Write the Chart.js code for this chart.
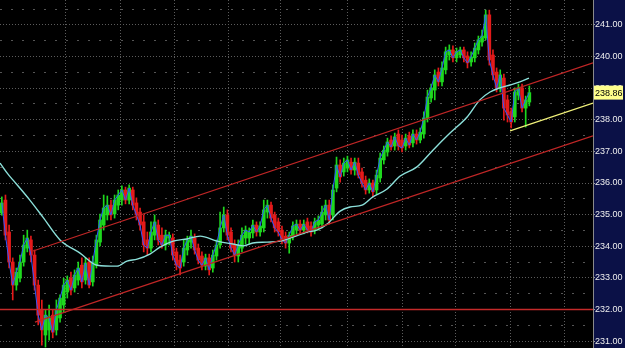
<!DOCTYPE html>
<html>
<head>
<meta charset="utf-8">
<script src="https://cdn.jsdelivr.net/npm/chart.js@4.4.1/dist/chart.umd.min.js"></script>
<style>
  html, body { margin: 0; padding: 0; background: #000; }
  #wrap { width: 625px; height: 348px; }
</style>
</head>
<body>
<div id="wrap"><canvas id="chart" width="625" height="348"></canvas></div>
<script>
// candles, oldest first
const opens = [
  235.05, 235.46, 234.45, 233.50, 232.77, 232.99, 233.50, 233.94, 234.20, 233.72,
  232.77, 231.98, 231.19, 231.35, 231.82, 231.35, 231.73, 232.14, 232.55, 232.99,
  232.68, 232.93, 233.40, 232.93, 233.50, 232.87, 233.40, 234.13, 234.67, 234.99,
  235.30, 235.02, 235.30, 235.46, 235.78, 235.46, 235.78, 235.37, 235.08, 234.77,
  234.20, 233.94, 234.35, 234.67, 234.35, 234.04, 234.26, 234.26, 233.82, 233.56,
  233.50, 233.88, 234.13, 234.26, 233.94, 233.69, 233.37, 233.63, 233.31, 233.69,
  234.04, 234.58, 234.99, 234.45, 234.04, 233.69, 233.94, 234.26, 234.26, 234.42,
  234.67, 234.45, 234.58, 235.08, 235.30, 234.99, 234.77, 234.51, 234.32, 234.10,
  234.32, 234.51, 234.70, 234.51, 234.77, 234.64, 234.51, 234.67, 234.70, 234.99,
  235.30, 234.99, 235.84, 236.57, 236.35, 236.47, 236.66, 236.41, 236.63, 236.35,
  236.09, 235.78, 236.00, 235.78, 236.16, 236.73, 236.98, 237.36, 237.17, 237.55,
  237.36, 237.17, 237.49, 237.27, 237.55, 237.36, 237.55, 238.06, 238.69, 238.94,
  239.51, 239.20, 239.58, 240.05, 240.21, 239.96, 240.05, 240.21, 240.02, 239.83,
  239.96, 240.21, 240.46, 240.59, 241.32, 240.05, 239.51, 239.01, 239.32, 238.63,
  238.25, 238.09, 238.78, 239.01, 238.37, 238.56
];
const highs = [
  235.56, 235.62, 234.67, 233.63, 233.31, 233.72, 234.35, 234.51, 234.32, 233.88,
  232.93, 232.30, 231.98, 232.14, 231.98, 232.30, 232.46, 232.99, 233.06, 233.18,
  233.25, 233.50, 233.63, 233.63, 233.63, 233.69, 234.35, 235.02, 235.62, 235.59,
  235.46, 235.62, 235.78, 235.91, 235.87, 235.94, 235.87, 235.53, 235.21, 234.99,
  234.45, 234.77, 234.99, 234.83, 234.58, 234.51, 234.45, 234.39, 233.94, 233.72,
  234.20, 234.32, 234.51, 234.39, 234.07, 233.82, 233.75, 233.75, 233.88, 234.20,
  235.08, 235.24, 235.15, 234.58, 234.20, 234.20, 234.58, 234.64, 234.58, 234.83,
  234.77, 234.77, 235.46, 235.46, 235.40, 235.08, 234.89, 234.64, 234.45, 234.45,
  234.77, 234.83, 234.83, 234.83, 234.89, 234.77, 234.89, 234.96, 235.27, 235.46,
  235.46, 235.94, 236.82, 236.73, 236.79, 236.85, 236.79, 236.79, 236.79, 236.47,
  236.22, 236.13, 236.09, 236.41, 236.95, 237.17, 237.42, 237.49, 237.58, 237.68,
  237.52, 237.55, 237.61, 237.68, 237.68, 237.74, 238.25, 238.94, 239.13, 239.58,
  239.64, 239.83, 240.30, 240.37, 240.34, 240.27, 240.30, 240.30, 240.15, 240.15,
  240.43, 240.65, 240.84, 241.47, 241.47, 240.21, 239.64, 239.58, 239.45, 238.78,
  238.37, 239.01, 239.13, 239.13, 238.75, 239.07
];
const lows = [
  234.98, 234.20, 233.31, 232.30, 232.61, 232.87, 233.37, 233.82, 233.50, 232.61,
  231.51, 230.87, 230.81, 231.03, 231.10, 231.19, 231.60, 231.92, 232.36, 232.46,
  232.55, 232.77, 232.68, 232.80, 232.68, 232.74, 233.31, 234.01, 234.51, 234.83,
  234.83, 234.89, 235.15, 235.30, 235.34, 235.34, 235.15, 234.83, 234.51, 233.82,
  233.72, 233.82, 234.20, 234.04, 233.94, 233.88, 234.04, 233.56, 233.25, 233.09,
  233.37, 233.72, 233.94, 233.75, 233.44, 233.25, 233.25, 233.09, 233.18, 233.56,
  233.94, 234.45, 234.20, 233.82, 233.50, 233.50, 233.82, 234.07, 234.07, 234.26,
  234.32, 234.32, 234.45, 234.89, 234.77, 234.45, 234.32, 234.07, 233.94, 233.78,
  234.20, 234.39, 234.39, 234.39, 234.42, 234.32, 234.39, 234.51, 234.58, 234.83,
  234.70, 234.83, 235.72, 236.03, 236.22, 236.35, 236.28, 236.25, 236.16, 235.87,
  235.65, 235.68, 235.56, 235.65, 236.03, 236.60, 236.85, 237.04, 237.04, 237.04,
  236.98, 237.04, 237.11, 237.14, 237.23, 237.27, 237.42, 237.93, 238.56, 238.63,
  239.07, 239.07, 239.45, 239.89, 239.83, 239.83, 239.96, 239.83, 239.64, 239.70,
  239.83, 240.08, 240.33, 240.53, 239.73, 239.26, 238.88, 238.88, 237.99, 237.93,
  237.74, 237.93, 238.63, 238.25, 237.77, 238.44
];
const closes = [
  235.37, 234.35, 233.50, 232.77, 233.18, 233.50, 234.04, 234.26, 233.72, 232.77,
  231.82, 231.35, 231.82, 231.73, 231.28, 231.98, 232.36, 232.77, 232.93, 232.61,
  233.09, 233.31, 232.87, 233.47, 232.77, 233.50, 234.20, 234.83, 235.21, 235.30,
  234.99, 235.46, 235.62, 235.78, 235.46, 235.84, 235.30, 234.99, 234.67, 234.04,
  233.94, 234.45, 234.77, 234.20, 234.04, 234.35, 234.35, 233.72, 233.40, 233.31,
  233.94, 234.20, 234.32, 233.88, 233.56, 233.40, 233.63, 233.25, 233.72, 234.04,
  234.58, 234.99, 234.35, 233.94, 233.72, 234.04, 234.35, 234.51, 234.45, 234.67,
  234.45, 234.64, 235.15, 235.30, 234.89, 234.58, 234.45, 234.20, 234.10, 234.35,
  234.64, 234.70, 234.51, 234.70, 234.51, 234.45, 234.77, 234.83, 235.08, 235.30,
  234.83, 235.78, 236.57, 236.19, 236.63, 236.73, 236.41, 236.66, 236.25, 236.00,
  235.78, 236.00, 235.72, 236.25, 236.79, 237.04, 237.30, 237.14, 237.46, 237.17,
  237.11, 237.42, 237.20, 237.55, 237.36, 237.61, 238.06, 238.72, 239.01, 239.42,
  239.20, 239.64, 240.15, 240.21, 239.96, 240.15, 240.21, 239.96, 239.80, 239.99,
  240.27, 240.53, 240.65, 241.32, 239.89, 239.42, 239.01, 239.42, 238.37, 238.15,
  237.93, 238.88, 239.01, 238.37, 238.63, 238.86
];

const slowMaAt = [-0.5, 1.7, 3.1, 7.7, 11.3, 16.0, 21.5, 26.2, 31.7, 34.4, 37.2, 40.7, 43.5, 47.1,
  50.9, 54.5, 59.2, 63.5, 66.3, 69.0, 72.9, 76.5, 80.0, 83.9, 86.6, 89.4, 93.0, 95.7, 99.0,
  102.0, 105.9, 109.5, 114.1, 118.5, 123.2, 127.9, 131.4, 134.2, 136.9, 139.7, 142.4, 144.9];
const slowMa = [236.63, 236.28, 236.09, 235.46, 234.92, 234.20, 233.78, 233.40, 233.37, 233.53, 233.59, 233.75, 233.97, 234.16,
  234.23, 234.32, 234.16, 234.07, 234.01, 234.10, 234.13, 234.16, 234.29, 234.45, 234.51, 234.70, 235.11, 235.24, 235.30,
  235.56, 235.81, 236.22, 236.51, 237.04, 237.58, 238.09, 238.63, 238.88, 239.01, 239.10, 239.20, 239.32];

// drawn trend lines (bar position, price)
const upperChannelAt = [8.6, 162.5];
const upperChannel = [233.85, 239.80];
const lowerChannelAt = [9.1, 162.5];
const lowerChannel = [231.60, 237.49];
const supportAt = [139.7, 162.5];
const support = [237.65, 238.53];
const flatLevel = 232.00;

const priceTicks = [231, 232, 233, 234, 235, 236, 237, 238, 239, 240, 241];
const halfTicks = [231.5, 232.5, 233.5, 234.5, 235.5, 236.5, 237.5, 238.5, 239.5, 240.5, 241.5];
const sessionBreaks = [17.4, 32.5, 47.6, 62.4, 76.5, 94.9, 110.0, 124.6, 139.7, 154.8];

const xMin = -0.5, xMax = 162.5;
const yMin = 230.78, yMax = 241.79;
const lastPrice = closes[closes.length - 1];

const UP = '#1ed81e';
const DOWN = '#e41a1a';
const candleColors = closes.map((c, i) => c >= opens[i] ? UP : DOWN);
const axisFont = { family: '"Liberation Sans", Arial, sans-serif', size: 9 };

const line = (xs, ys) => xs.map((x, i) => ({ x: x, y: ys[i] }));

const panel = {
  id: 'panel',
  beforeDraw(chart) {
    const { ctx, chartArea, width, height } = chart;
    ctx.save();
    ctx.fillStyle = '#000000';
    ctx.fillRect(0, 0, width, height);
    ctx.fillStyle = '#0b1147';
    ctx.fillRect(chartArea.right, 0, width - chartArea.right, height);
    ctx.restore();
  },
  afterDraw(chart) {
    const { ctx, chartArea, width } = chart;
    const y = chart.scales.y.getPixelForValue(lastPrice);
    ctx.save();
    ctx.fillStyle = '#ffff8c';
    ctx.fillRect(chartArea.right + 1, y - 7, width - chartArea.right - 3, 14);
    ctx.fillStyle = '#000000';
    ctx.font = axisFont.size + 'px ' + axisFont.family;
    ctx.textBaseline = 'middle';
    ctx.fillText(lastPrice.toFixed(2), chartArea.right + 2, y + 1);
    ctx.restore();
  }
};

const noPad = s => { s.paddingTop = 0; s.paddingBottom = 0; s.paddingLeft = 0; s.paddingRight = 0; };

new Chart(document.getElementById('chart'), {
  type: 'bar',
  data: {
    datasets: [
      {
        type: 'line', label: 'upper', order: 0,
        data: line(upperChannelAt, upperChannel),
        borderColor: '#c02626', borderWidth: 1.2, pointRadius: 0
      },
      {
        type: 'line', label: 'lower', order: 0,
        data: line(lowerChannelAt, lowerChannel),
        borderColor: '#c02626', borderWidth: 1.2, pointRadius: 0
      },
      {
        type: 'line', label: 'flat', order: 0,
        data: line([xMin, xMax], [flatLevel, flatLevel]),
        borderColor: '#c42a2a', borderWidth: 1.6, pointRadius: 0
      },
      {
        type: 'line', label: 'support', order: 0,
        data: line(supportAt, support),
        borderColor: '#f2f27a', borderWidth: 1.2, pointRadius: 0
      },
      {
        type: 'line', label: 'slow', order: 0,
        data: line(slowMaAt, slowMa),
        borderColor: '#8ce0da', borderWidth: 1.4, pointRadius: 0,
        cubicInterpolationMode: 'monotone'
      },
      {
        type: 'line', label: 'fast', order: 0,
        data: closes.map((c, i) => ({ x: i, y: c })),
        borderColor: '#3058ff', borderWidth: 1, pointRadius: 0
      },
      {
        label: 'bodies', order: 1, grouped: false,
        data: closes.map((c, i) => {
          const lo = Math.min(c, opens[i]);
          const hi = Math.max(c, opens[i]);
          return { x: i, y: [lo, Math.max(hi, lo + 0.03)] };
        }),
        backgroundColor: candleColors, barThickness: 3, borderWidth: 0
      },
      {
        label: 'wicks', order: 2, grouped: false,
        data: highs.map((h, i) => ({ x: i, y: [lows[i], h] })),
        backgroundColor: candleColors, barThickness: 1, borderWidth: 0
      }
    ]
  },
  options: {
    responsive: false,
    animation: false,
    layout: { padding: 0 },
    plugins: { legend: { display: false }, tooltip: { enabled: false } },
    scales: {
      x: {
        type: 'linear', min: xMin, max: xMax, offset: false,
        afterBuildTicks: s => { s.ticks = sessionBreaks.map(v => ({ value: v })); },
        afterFit: s => { s.height = 0; noPad(s); },
        ticks: { display: false },
        grid: { color: '#5c5c5c', drawTicks: false, offset: false },
        border: { display: false, dash: [1, 2] }
      },
      yHalf: {
        position: 'left', min: yMin, max: yMax,
        afterBuildTicks: s => { s.ticks = halfTicks.map(v => ({ value: v })); },
        afterFit: s => { s.width = 0; noPad(s); },
        ticks: { display: false },
        grid: { color: '#555555', drawTicks: false },
        border: { display: false, dash: [2, 9] }
      },
      y: {
        position: 'right', min: yMin, max: yMax,
        afterBuildTicks: s => { s.ticks = priceTicks.map(v => ({ value: v })); },
        afterFit: s => { s.width = 32; noPad(s); },
        ticks: {
          color: '#eeeeee', font: axisFont, padding: 0,
          callback: v => Number(v).toFixed(2)
        },
        grid: { color: '#5c5c5c', tickLength: 2, tickColor: '#a0a0a0' },
        border: { display: true, color: '#8a8a8a', dash: [1, 2] }
      }
    }
  },
  plugins: [panel]
});
</script>
</body>
</html>
